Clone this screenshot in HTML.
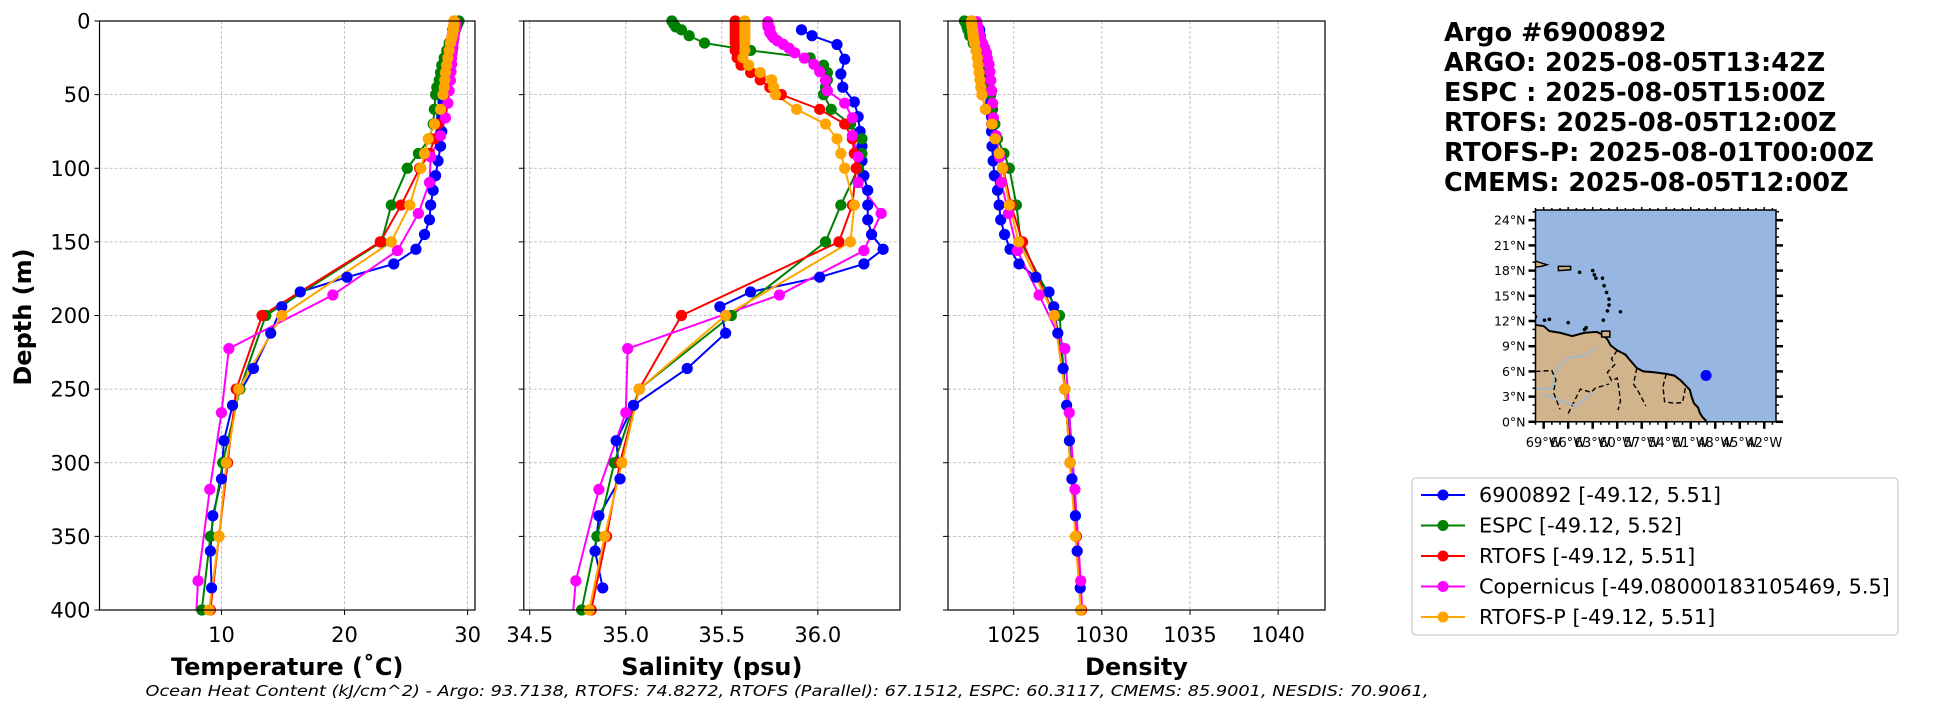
<!DOCTYPE html>
<html><head><meta charset="utf-8"><style>
html,body{margin:0;padding:0;background:#fff;}
svg{display:block;font-family:"DejaVu Sans","Liberation Sans",sans-serif;}
</style></head><body>
<svg id="fig" width="1949" height="712" viewBox="0 0 1949 712" xmlns="http://www.w3.org/2000/svg">
<defs>
<clipPath id="c0"><rect x="99.5" y="21" width="375.5" height="589"/></clipPath>
<clipPath id="c1"><rect x="523.8" y="21" width="376.2" height="589"/></clipPath>
<clipPath id="c2"><rect x="948" y="21" width="377" height="589"/></clipPath>
<clipPath id="cm"><rect x="1535.5" y="210" width="240.5" height="211.8"/></clipPath>
</defs>
<g id="plots"></g>
<g id="title" font-weight="bold" font-size="25.5" fill="#000">
<text x="1444" y="41">Argo #6900892</text>
<text x="1444" y="71">ARGO: 2025-08-05T13:42Z</text>
<text x="1444" y="101">ESPC : 2025-08-05T15:00Z</text>
<text x="1444" y="131">RTOFS: 2025-08-05T12:00Z</text>
<text x="1444" y="161" textLength="430" lengthAdjust="spacingAndGlyphs">RTOFS-P: 2025-08-01T00:00Z</text>
<text x="1444" y="191">CMEMS: 2025-08-05T12:00Z</text>
</g>
<g id="map"></g>
<g id="legend"></g>
<text x="787" y="696" text-anchor="middle" font-style="italic" font-size="15.5" textLength="1283" lengthAdjust="spacingAndGlyphs">Ocean Heat Content (kJ/cm^2) - Argo: 93.7138,  RTOFS: 74.8272,  RTOFS (Parallel): 67.1512,  ESPC: 60.3117,  CMEMS: 85.9001,  NESDIS: 70.9061,</text>
</svg>
<script>
// ---- data ----
const argoDepth=[6,10,16,26,36,45,55,65,75,85,95,105,115,125,135,145,155,165,174,184,194,212,236,261,285,311,336,360,385];
const argoTemp=[28.8,28.75,28.7,28.5,28.3,28.2,28.0,27.9,27.9,27.8,27.6,27.4,27.2,27.0,26.9,26.5,25.8,24.0,20.2,16.4,14.9,14.0,12.6,10.9,10.2,10.0,9.3,9.1,9.2];
const argoSal=[35.915,35.97,36.10,36.14,36.12,36.13,36.19,36.21,36.22,36.23,36.23,36.24,36.26,36.26,36.26,36.28,36.34,36.24,36.01,35.65,35.49,35.52,35.32,35.04,34.95,34.97,34.86,34.84,34.88];
const argoDen=[1023.07,1023.1,1023.16,1023.44,1023.5,1023.6,1023.7,1023.74,1023.74,1023.77,1023.83,1023.9,1024.08,1024.17,1024.26,1024.48,1024.79,1025.3,1026.26,1027.0,1027.27,1027.5,1027.8,1028.0,1028.16,1028.3,1028.5,1028.6,1028.77];

const espcDepth=[0,2,4,6,10,15,20,25,30,35,40,45,50,60,70,80,90,100,125,150,200,250,300,350,400];
const espcTemp=[29.3,29.2,29.1,29.0,28.8,28.5,28.3,28.1,27.9,27.8,27.7,27.5,27.4,27.3,27.2,26.9,26.0,25.1,23.8,23.0,13.6,11.5,10.1,9.1,8.4];
const espcSal=[35.24,35.25,35.26,35.29,35.33,35.41,35.65,35.96,36.03,36.05,36.05,36.04,36.03,36.07,36.17,36.23,36.23,36.21,36.12,36.04,35.55,35.07,34.94,34.85,34.77];
const espcDen=[1022.2,1022.3,1022.35,1022.4,1022.5,1022.7,1022.9,1023.1,1023.3,1023.4,1023.5,1023.6,1023.7,1023.8,1023.93,1024.08,1024.45,1024.75,1025.15,1025.4,1027.6,1027.9,1028.2,1028.55,1028.8];

const rtofsDepth=[0,2,4,6,8,10,12,15,20,25,30,35,40,45,50,60,70,80,90,100,125,150,200,250,300,350,400];
const rtofsTemp=[28.9,28.9,28.9,28.85,28.8,28.75,28.7,28.6,28.5,28.4,28.3,28.25,28.2,28.15,28.1,27.9,27.6,27.3,26.9,26.1,24.6,22.9,13.3,11.2,10.5,9.8,9.1];
const rtofsSal=[35.57,35.57,35.57,35.57,35.57,35.57,35.57,35.57,35.57,35.58,35.60,35.65,35.70,35.75,35.81,36.01,36.14,36.18,36.19,36.20,36.18,36.11,35.29,35.07,34.97,34.90,34.82];
const rtofsDen=[1022.6,1022.62,1022.65,1022.68,1022.7,1022.72,1022.75,1022.8,1022.88,1022.95,1023.0,1023.05,1023.1,1023.15,1023.2,1023.4,1023.75,1023.95,1024.17,1024.4,1024.85,1025.5,1027.3,1027.9,1028.2,1028.55,1028.85];

const cmemsDepth=[0.5,1.5,2.6,3.8,5.1,6.4,7.9,9.6,11.4,13.5,15.8,18.5,21.6,25.2,29.4,34.4,40.3,47.4,55.8,65.8,77.9,92.3,109.7,130.7,155.9,186.1,222.5,266.0,318.1,380.2,453.9];
const cmemsTemp=[29.0,29.0,29.0,29.0,29.0,28.95,28.95,28.9,28.9,28.85,28.8,28.8,28.75,28.7,28.7,28.65,28.6,28.5,28.4,28.2,27.8,27.0,26.9,26.0,24.3,19.05,10.6,10.0,9.05,8.1,7.6];
const cmemsSal=[35.74,35.74,35.74,35.74,35.75,35.75,35.75,35.76,35.77,35.79,35.82,35.85,35.88,35.93,35.98,36.01,36.04,36.05,36.14,36.18,36.18,36.21,36.21,36.33,36.24,35.80,35.01,35.00,34.86,34.74,34.69];
const cmemsDen=[1022.9,1022.9,1022.9,1022.95,1022.95,1023.0,1023.0,1023.05,1023.1,1023.15,1023.25,1023.35,1023.45,1023.5,1023.6,1023.65,1023.7,1023.75,1023.8,1023.85,1024.0,1024.2,1024.3,1024.7,1025.2,1026.44,1027.9,1028.15,1028.47,1028.8,1029.1];

const rtofspDepth=[0,2,4,6,8,10,12,15,20,25,30,35,40,45,50,60,70,80,90,100,125,150,200,250,300,350,400];
const rtofspTemp=[28.9,28.9,28.85,28.85,28.8,28.75,28.7,28.6,28.5,28.4,28.3,28.2,28.15,28.1,28.0,27.8,27.3,26.8,26.5,26.2,25.3,23.8,14.9,11.4,10.4,9.8,9.0];
const rtofspSal=[35.62,35.62,35.62,35.62,35.62,35.62,35.62,35.62,35.62,35.61,35.64,35.70,35.76,35.77,35.78,35.89,36.04,36.10,36.12,36.14,36.19,36.17,35.52,35.07,34.98,34.89,34.81];
const rtofspDen=[1022.6,1022.62,1022.64,1022.66,1022.68,1022.7,1022.73,1022.78,1022.86,1022.93,1022.98,1023.03,1023.08,1023.13,1023.2,1023.4,1023.77,1023.95,1024.17,1024.36,1024.75,1025.28,1027.3,1027.9,1028.2,1028.5,1028.8];

const seriesNames=["6900892 [-49.12, 5.51]","ESPC [-49.12, 5.52]","RTOFS [-49.12, 5.51]","Copernicus [-49.08000183105469, 5.5]","RTOFS-P [-49.12, 5.51]"];
const tempTicks=[10,20,30];
const salTicks=[34.5,35.0,35.5,36.0];
const salTickLabels=["34.5","35.0","35.5","36.0"];
const denTicks=[1025,1030,1035,1040];
const depthTicks=[0,50,100,150,200,250,300,350,400];
const latTicks=[0,3,6,9,12,15,18,21,24];
const lonTicks=[-69,-66,-63,-60,-57,-54,-51,-48,-45,-42];
const floatLon=-49.12, floatLat=5.51;

// ---- layout ----
const NS="http://www.w3.org/2000/svg";
function mk(tag,attrs,parent){const e=document.createElementNS(NS,tag);for(const k in attrs)e.setAttribute(k,attrs[k]);parent.appendChild(e);return e;}
const colors=["#0000ff","#008000","#ff0000","#ff00ff","#ffa500"];
const Y0=21,Y1=610;
function yScale(d){return Y0+(d/400)*(Y1-Y0);}
const panels=[
 {x0:99.5,x1:475,lo:0.09,hi:30.6,ticks:tempTicks,labels:tempTicks.map(String),label:"Temperature (˚C)",clip:"c0",name:"temperature",vals:[argoTemp,espcTemp,rtofsTemp,cmemsTemp,rtofspTemp],ylab:true},
 {x0:523.8,x1:900,lo:34.469,hi:36.428,ticks:salTicks,labels:salTickLabels,label:"Salinity (psu)",clip:"c1",name:"salinity",vals:[argoSal,espcSal,rtofsSal,cmemsSal,rtofspSal]},
 {x0:948,x1:1325,lo:1021.27,hi:1042.66,ticks:denTicks,labels:denTicks.map(String),label:"Density",clip:"c2",name:"density",vals:[argoDen,espcDen,rtofsDen,cmemsDen,rtofspDen]}
];
const depths=[argoDepth,espcDepth,rtofsDepth,cmemsDepth,rtofspDepth];
const seriesKeys=["argo","espc","rtofs","cmems","rtofsp"];
const root=document.getElementById('plots');
panels.forEach(p=>{
  const xs=v=>p.x0+(v-p.lo)/(p.hi-p.lo)*(p.x1-p.x0);
  const g=mk('g',{},root);
  
  
  p.ticks.forEach(t=>{const x=xs(t);if(x<p.x0||x>p.x1)return;
    const l=mk('line',{x1:x,x2:x,y1:Y0,y2:Y1,stroke:'#b0b0b0','stroke-width':0.8,'stroke-dasharray':'3,2'},g);
    
    });
  depthTicks.forEach(d=>{const y=yScale(d);
    const l=mk('line',{x1:p.x0,x2:p.x1,y1:y,y2:y,stroke:'#b0b0b0','stroke-width':0.8,'stroke-dasharray':'3,2'},g);
    
    });
  const sg=mk('g',{'clip-path':'url(#'+p.clip+')'},g);
  p.vals.forEach((vals,i)=>{
    const dep=depths[i];
    const pts=vals.map((v,j)=>xs(v).toFixed(2)+','+yScale(dep[j]).toFixed(2)).join(' ');
    const pl=mk('polyline',{points:pts,fill:'none',stroke:colors[i],'stroke-width':2},sg);
    
    
    vals.forEach((v,j)=>{if(dep[j]>400)return;
      const c=mk('circle',{cx:xs(v),cy:yScale(dep[j]),r:5.6,fill:colors[i]},g);
      
      });
  });
  const fr=mk('rect',{x:p.x0,y:Y0,width:p.x1-p.x0,height:Y1-Y0,fill:'none',stroke:'#000','stroke-width':1.2},g);
  
  
  p.ticks.forEach((t,k)=>{const x=xs(t);
    mk('line',{x1:x,x2:x,y1:Y1,y2:Y1+5,stroke:'#000','stroke-width':1},g);
    const tx=mk('text',{x:x,y:642,'text-anchor':'middle','font-size':21},g);
    tx.textContent=p.labels[k];
    
    });
  depthTicks.forEach(d=>{const y=yScale(d);
    mk('line',{x1:p.x0-5,x2:p.x0,y1:y,y2:y,stroke:'#000','stroke-width':1},g);
    if(p.ylab){const tx=mk('text',{x:p.x0-9,y:y+7.5,'text-anchor':'end','font-size':21},g);
      tx.textContent=String(d);
      
      }});
  const xl=mk('text',{x:(p.x0+p.x1)/2,y:675,'text-anchor':'middle','font-size':24,'font-weight':'bold'},g);
  xl.textContent=p.label;
  
  
  if(p.ylab){const yl=mk('text',{x:0,y:0,'text-anchor':'middle','font-size':24,'font-weight':'bold',transform:'translate(31,317) rotate(-90)'},g);
    yl.textContent='Depth (m)';
    
    }
});

// ---- map ----
const mg=document.getElementById('map');
const MX0=1535.5,MX1=1776,MY0=210,MY1=421.8;
const lonX=lo=>MX0+(lo+70)*8.17, latY=la=>MY1-la*8.4;
const ocean=mk('rect',{x:MX0,y:MY0,width:MX1-MX0,height:MY1-MY0,fill:'#97b6e1'},mg);


const mc=mk('g',{'clip-path':'url(#cm)'},mg);
const landPts=[[-71,11.8],[-69.8,11.5],[-69,11.4],[-68.3,10.8],[-67,10.6],[-65.5,10.2],[-64,10.6],[-62.5,10.7],[-61.8,10.4],[-61.2,9.8],[-60.8,9.1],[-60,8.5],[-59,8],[-58.4,7.3],[-57.6,6.4],[-56.8,6],[-55.5,5.9],[-54,5.7],[-53,5.5],[-52.2,4.9],[-51.6,4.3],[-51.1,3.8],[-50.9,3],[-50.6,2.2],[-50.1,1.7],[-49.9,1.1],[-49.6,0.6],[-49.2,0.2],[-48.8,-0.5],[-71,-0.5]];
const land=mk('polygon',{points:landPts.map(q=>lonX(q[0])+','+latY(q[1])).join(' '),fill:'#d2b48c',stroke:'#000','stroke-width':2},mc);


const islands=[[[-71,18.3],[-69.3,18.5],[-68.6,18.7],[-69.6,19],[-71,19.5]],[[-67.2,18.0],[-65.7,18.1],[-65.7,18.5],[-67.2,18.5]],[[-61.9,10.1],[-60.9,10.1],[-60.9,10.8],[-61.9,10.8]]];
islands.forEach(isl=>{const e=mk('polygon',{points:isl.map(q=>lonX(q[0])+','+latY(q[1])).join(' '),fill:'#d2b48c',stroke:'#000','stroke-width':1.5},mc);
  
  });
const antilles=[[-64.6,17.8],[-63,18],[-62.8,17.5],[-62.6,17.1],[-61.8,17.1],[-61.6,16.2],[-61.3,15.4],[-61,14.6],[-61,13.9],[-61.2,13.2],[-61.7,12.1],[-59.6,13.1],[-68.9,12.1],[-68.3,12.2],[-70,12.5],[-66,11.8],[-64,11],[-63.8,11.2]];
antilles.forEach(a=>{const e=mk('circle',{cx:lonX(a[0]),cy:latY(a[1]),r:1.8,fill:'#000'},mc);
  
  });
const borders=[[[-60,8.5],[-60.7,7.5],[-60.3,6.8],[-61.2,5.9],[-60.7,4.9],[-60,5.2],[-59.8,4],[-59.6,2.5],[-59.9,1.4]],[[-57.6,6.4],[-58,4.5],[-57.3,3.4],[-56.5,1.9]],[[-54,5.7],[-54.4,4.2],[-54.2,2.4],[-53,2.2],[-52,2.3],[-51.6,4.3]],[[-70,6],[-68,6.1],[-67.5,5],[-67.8,3.5],[-67,1.5]],[[-66,1],[-64.5,3.9],[-63.2,3.5],[-62.7,4],[-61,4.5]]];
borders.forEach(b=>{const e=mk('polyline',{points:b.map(q=>lonX(q[0])+','+latY(q[1])).join(' '),fill:'none',stroke:'#000','stroke-width':1.4,'stroke-dasharray':'5,3'},mc);
  
  });
const rivers=[[[-62.5,8.8],[-64,7.9],[-66,7.6],[-67.5,6.2],[-68,4],[-70,3.9]],[[-63,3.5],[-65,1.9],[-67,2.5],[-69,3.3]]];
rivers.forEach(r=>{const e=mk('polyline',{points:r.map(q=>lonX(q[0])+','+latY(q[1])).join(' '),fill:'none',stroke:'#97b6e1','stroke-width':1.4},mc);
  
  });
const dot=mk('circle',{cx:lonX(floatLon),cy:latY(floatLat),r:5.5,fill:'#0000ff'},mg);


mk('rect',{x:MX0,y:MY0,width:MX1-MX0,height:MY1-MY0,fill:'none',stroke:'#000','stroke-width':1.5},mg);
for(let la=0;la<=25;la++){const y=latY(la);const maj=la%3===0;
  mk('line',{x1:MX0-(maj?7:3),x2:MX0,y1:y,y2:y,stroke:'#000','stroke-width':maj?2.5:1.5},mg);
  mk('line',{x1:MX1,x2:MX1+(maj?7:3),y1:y,y2:y,stroke:'#000','stroke-width':maj?2.5:1.5},mg);}
for(let lo=-70;lo<=-41;lo++){const x=lonX(lo);const maj=lonTicks.indexOf(lo)>=0;
  mk('line',{x1:x,x2:x,y1:MY1,y2:MY1+(maj?7:3),stroke:'#000','stroke-width':maj?2.5:1.5},mg);
  mk('line',{x1:x,x2:x,y1:MY0-(maj?3:2),y2:MY0,stroke:'#000','stroke-width':1.5},mg);}
latTicks.forEach(la=>{const t=mk('text',{x:MX0-10,y:latY(la)+4.5,'text-anchor':'end','font-size':12.5},mg);
  t.textContent=la+'°N';
  
  });
lonTicks.forEach(lo=>{const t=mk('text',{x:lonX(lo),y:MY1+25,'text-anchor':'middle','font-size':13},mg);
  t.textContent=(-lo)+'°W';
  
  });

// ---- legend ----
const lg=document.getElementById('legend');
const lb=mk('rect',{x:1412,y:478,width:486,height:157,rx:4,fill:'#fff',stroke:'#cccccc','stroke-width':1.2},lg);


seriesNames.forEach((n,i)=>{const y=495+i*30.5;
  const e=mk('g',{},lg);
  
  
  mk('line',{x1:1421,x2:1465,y1:y,y2:y,stroke:colors[i],'stroke-width':2},e);
  mk('circle',{cx:1443,cy:y,r:5.5,fill:colors[i]},e);
  const t=mk('text',{x:1479,y:y+7,'font-size':20.8},e);
  t.textContent=n;});
</script>
</body></html>
